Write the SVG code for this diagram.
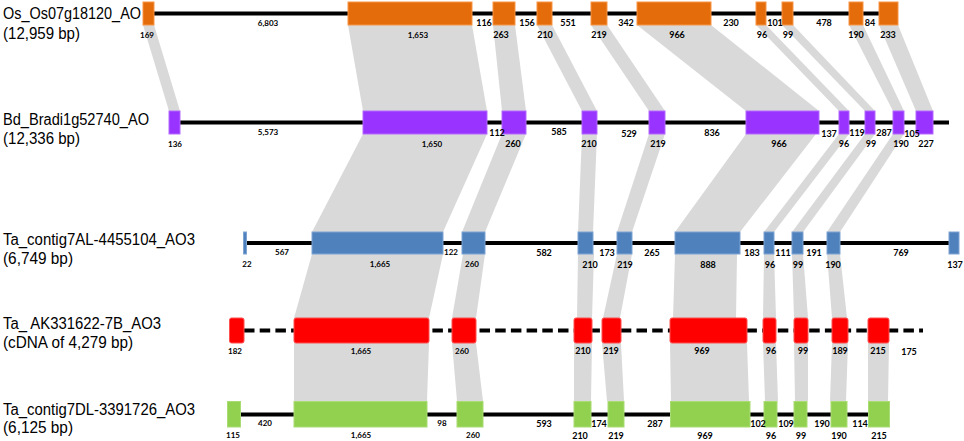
<svg xmlns="http://www.w3.org/2000/svg" width="964" height="441" viewBox="0 0 964 441">
<style>
.name{font-family:"Liberation Sans",Arial,sans-serif;font-size:16px;fill:#000}
.s{font-family:Lato,"Liberation Sans",Arial,sans-serif;font-size:8px;font-weight:700;fill:#000;text-anchor:middle}
.n{font-family:Lato,"Liberation Sans",Arial,sans-serif;font-size:9px;font-weight:700;fill:#000;text-anchor:middle}
.ln{stroke:#000;stroke-width:4;fill:none}
.dash{stroke:#000;stroke-width:4;fill:none;stroke-dasharray:10.5 5.2}
.band{fill:#d9d9d9}
.or{fill:#e46c0a;stroke:#f79646;stroke-width:1}
.pu{fill:#9933ff;stroke:#b36bff;stroke-width:1}
.bl{fill:#4f81bd;stroke:#7ea4d2;stroke-width:1}
.rd{fill:#ff0000;stroke:#ff5050;stroke-width:1}
.gr{fill:#92d050;stroke:#a9dc72;stroke-width:1}
</style>
<g id="connectors">
<polygon class="band" points="143,25 154,25 180,111 169,111"/>
<polygon class="band" points="348,25 472,25 487,111 363,111"/>
<polygon class="band" points="493,25 515,25 526,111 502,111"/>
<polygon class="band" points="537,25 552,25 597,111 582,111"/>
<polygon class="band" points="591,25 607,25 665,111 649,111"/>
<polygon class="band" points="637,25 711,25 819,111 746,111"/>
<polygon class="band" points="756,25 766,25 849,111 839,111"/>
<polygon class="band" points="782,25 793,25 875,111 865,111"/>
<polygon class="band" points="849,25 863,25 904,111 893,111"/>
<polygon class="band" points="879,25 898,25 933,111 916,111"/>
<polygon class="band" points="363,134 487,134 443,232 312,232"/>
<polygon class="band" points="502,134 526,134 485,232 462,232"/>
<polygon class="band" points="582,134 597,134 593,232 578,232"/>
<polygon class="band" points="649,134 665,134 632,232 617,232"/>
<polygon class="band" points="746,134 816,134 740,232 675,232"/>
<polygon class="band" points="839,134 849,134 774,232 764,232"/>
<polygon class="band" points="865,134 875,134 803,232 792,232"/>
<polygon class="band" points="893,134 904,134 840,232 827,232"/>
<polygon class="band" points="312,254 443,254 429,318 294,318"/>
<polygon class="band" points="463,254 485,254 476,318 452,318"/>
<polygon class="band" points="578,254 594,254 592,318 577,318"/>
<polygon class="band" points="617,254 632,254 620,318 603,318"/>
<polygon class="band" points="675,254 737,254 736,318 673,318"/>
<polygon class="band" points="764,254 774,254 776,318 763,318"/>
<polygon class="band" points="792,254 803,254 808,318 794,318"/>
<polygon class="band" points="827,254 840,254 847,318 832,318"/>
<polygon class="band" points="294,343 429,343 427,401 294,401"/>
<polygon class="band" points="452,343 476,343 483,401 457,401"/>
<polygon class="band" points="574,343 592,343 591,401 574,401"/>
<polygon class="band" points="602,343 621,343 624,401 607,401"/>
<polygon class="band" points="670,343 747,343 749,401 671,401"/>
<polygon class="band" points="763,343 776,343 778,401 765,401"/>
<polygon class="band" points="794,343 808,343 808,401 795,401"/>
<polygon class="band" points="832,343 848,343 846,401 830,401"/>
<polygon class="band" points="868,343 889,343 888,401 868,401"/>
</g>
<g id="os">
<text class="name" x="3" y="18.5" textLength="138" lengthAdjust="spacingAndGlyphs">Os_Os07g18120_AO</text>
<text class="name" x="3" y="38.5" textLength="77" lengthAdjust="spacingAndGlyphs">(12,959 bp)</text>
<line class="ln" x1="154" y1="13.5" x2="879" y2="13.5"/>
<rect class="or" x="143" y="2" width="11" height="23"/>
<rect class="or" x="348" y="2" width="124" height="23"/>
<rect class="or" x="493" y="2" width="22" height="23"/>
<rect class="or" x="537" y="2" width="15" height="23"/>
<rect class="or" x="591" y="2" width="16" height="23"/>
<rect class="or" x="637" y="2" width="74" height="23"/>
<rect class="or" x="756" y="2" width="10" height="23"/>
<rect class="or" x="782" y="2" width="11" height="23"/>
<rect class="or" x="849" y="2" width="14" height="23"/>
<rect class="or" x="879" y="2" width="19" height="23"/>
<text class="s" x="147" y="37.5">169</text>
<text class="s" x="268" y="25.5">6,803</text>
<text class="s" x="418" y="37.5">1,653</text>
<text class="n" x="484" y="26">116</text>
<text class="n" x="527" y="26">156</text>
<text class="n" x="568" y="26">551</text>
<text class="n" x="626" y="26">342</text>
<text class="n" x="731" y="26">230</text>
<text class="n" x="775" y="26">101</text>
<text class="n" x="824" y="26">478</text>
<text class="n" x="870" y="26">84</text>
<text class="n" x="501" y="38">263</text>
<text class="n" x="545" y="38">210</text>
<text class="n" x="599" y="38">219</text>
<text class="n" x="677" y="38">966</text>
<text class="n" x="762" y="38">96</text>
<text class="n" x="788" y="38">99</text>
<text class="n" x="856" y="38">190</text>
<text class="n" x="888" y="38">233</text>
</g>
<g id="bd">
<text class="name" x="3" y="125" textLength="146" lengthAdjust="spacingAndGlyphs">Bd_Bradi1g52740_AO</text>
<text class="name" x="3" y="143.5" textLength="77" lengthAdjust="spacingAndGlyphs">(12,336 bp)</text>
<line class="ln" x1="180" y1="122.5" x2="949" y2="122.5"/>
<rect class="pu" x="169" y="111" width="11" height="23"/>
<rect class="pu" x="363" y="111" width="124" height="23"/>
<rect class="pu" x="502" y="111" width="24" height="23"/>
<rect class="pu" x="582" y="111" width="15" height="23"/>
<rect class="pu" x="649" y="111" width="16" height="23"/>
<rect class="pu" x="746" y="111" width="73" height="23"/>
<rect class="pu" x="839" y="111" width="10" height="23"/>
<rect class="pu" x="865" y="111" width="10" height="23"/>
<rect class="pu" x="893" y="111" width="11" height="23"/>
<rect class="pu" x="916" y="111" width="17" height="23"/>
<text class="s" x="268" y="135">5,573</text>
<text class="s" x="175" y="147">136</text>
<text class="s" x="432" y="147">1,650</text>
<text class="n" x="497" y="135.5">112</text>
<text class="n" x="559" y="135">585</text>
<text class="n" x="629" y="136.5">529</text>
<text class="n" x="712" y="135.5">836</text>
<text class="n" x="829" y="136.5">137</text>
<text class="n" x="857" y="135.5">119</text>
<text class="n" x="884" y="135.5">287</text>
<text class="n" x="912" y="136.5">105</text>
<text class="n" x="513" y="147">260</text>
<text class="n" x="589" y="147">210</text>
<text class="n" x="658" y="147">219</text>
<text class="n" x="779" y="147">966</text>
<text class="n" x="844" y="147">96</text>
<text class="n" x="871" y="147">99</text>
<text class="n" x="901" y="147">190</text>
<text class="n" x="926" y="147">227</text>
</g>
<g id="ta7al">
<text class="name" x="3" y="245" textLength="192" lengthAdjust="spacingAndGlyphs">Ta_contig7AL-4455104_AO3</text>
<text class="name" x="3" y="263.5" textLength="70" lengthAdjust="spacingAndGlyphs">(6,749 bp)</text>
<line class="ln" x1="246" y1="243" x2="949" y2="243"/>
<rect class="bl" x="243.5" y="232" width="3" height="22"/>
<rect class="bl" x="312" y="232" width="131" height="22"/>
<rect class="bl" x="462" y="232" width="23" height="22"/>
<rect class="bl" x="578" y="232" width="15" height="22"/>
<rect class="bl" x="617" y="232" width="15" height="22"/>
<rect class="bl" x="675" y="232" width="65" height="22"/>
<rect class="bl" x="764" y="232" width="10" height="22"/>
<rect class="bl" x="792" y="232" width="11" height="22"/>
<rect class="bl" x="827" y="232" width="13" height="22"/>
<rect class="bl" x="949" y="232" width="10" height="22"/>
<text class="s" x="282" y="255">567</text>
<text class="s" x="451" y="255">122</text>
<text class="s" x="247" y="267">22</text>
<text class="s" x="380" y="267">1,665</text>
<text class="s" x="472" y="267">260</text>
<text class="n" x="544" y="255.5">582</text>
<text class="n" x="607" y="255.5">173</text>
<text class="n" x="652" y="255.5">265</text>
<text class="n" x="752" y="255.5">183</text>
<text class="n" x="783" y="255.5">111</text>
<text class="n" x="814" y="255.5">191</text>
<text class="n" x="901" y="255.5">769</text>
<text class="n" x="590" y="267.5">210</text>
<text class="n" x="625" y="267.5">219</text>
<text class="n" x="708" y="267.5">888</text>
<text class="n" x="770" y="267.5">96</text>
<text class="n" x="798" y="267.5">99</text>
<text class="n" x="833" y="267.5">190</text>
<text class="n" x="955" y="267.5">137</text>
</g>
<g id="ak">
<text class="name" x="3" y="329" textLength="158" lengthAdjust="spacingAndGlyphs">Ta_ AK331622-7B_AO3</text>
<text class="name" x="3" y="347.5" textLength="130" lengthAdjust="spacingAndGlyphs">(cDNA of 4,279 bp)</text>
<line class="dash" x1="244" y1="330.5" x2="923" y2="330.5"/>
<rect class="rd" x="229.5" y="318" width="14.5" height="25" rx="2"/>
<rect class="rd" x="294" y="318" width="135" height="25" rx="2"/>
<rect class="rd" x="452" y="318" width="24" height="25" rx="2"/>
<rect class="rd" x="574" y="318" width="18" height="25" rx="2"/>
<rect class="rd" x="602" y="318" width="19" height="25" rx="2"/>
<rect class="rd" x="670" y="318" width="77" height="25" rx="2"/>
<rect class="rd" x="763" y="318" width="13" height="25" rx="2"/>
<rect class="rd" x="794" y="318" width="14" height="25" rx="2"/>
<rect class="rd" x="832" y="318" width="16" height="25" rx="2"/>
<rect class="rd" x="868" y="318" width="21" height="25" rx="2"/>
<text class="s" x="235" y="353.7">182</text>
<text class="s" x="361" y="353.7">1,665</text>
<text class="s" x="462" y="353.7">260</text>
<text class="n" x="583" y="354">210</text>
<text class="n" x="611" y="354">219</text>
<text class="n" x="702" y="354">969</text>
<text class="n" x="771" y="354">96</text>
<text class="n" x="803" y="354">99</text>
<text class="n" x="840" y="354">189</text>
<text class="n" x="878" y="354">215</text>
<text class="n" x="909" y="355">175</text>
</g>
<g id="ta7dl">
<text class="name" x="3" y="414.5" textLength="192" lengthAdjust="spacingAndGlyphs">Ta_contig7DL-3391726_AO3</text>
<text class="name" x="3" y="433" textLength="70" lengthAdjust="spacingAndGlyphs">(6,125 bp)</text>
<line class="ln" x1="240" y1="414.5" x2="868" y2="414.5"/>
<rect class="gr" x="227.5" y="401.5" width="13" height="25.5"/>
<rect class="gr" x="294" y="401.5" width="133" height="25.5"/>
<rect class="gr" x="457" y="401.5" width="26" height="25.5"/>
<rect class="gr" x="574" y="401.5" width="17" height="25.5"/>
<rect class="gr" x="608" y="401.5" width="16" height="25.5"/>
<rect class="gr" x="670.5" y="401.5" width="79.5" height="25.5"/>
<rect class="gr" x="764" y="401.5" width="13" height="25.5"/>
<rect class="gr" x="794" y="401.5" width="13" height="25.5"/>
<rect class="gr" x="831" y="401.5" width="16" height="25.5"/>
<rect class="gr" x="868.5" y="401.5" width="21" height="25.5"/>
<text class="s" x="233" y="438.4">115</text>
<text class="s" x="265" y="426.4">420</text>
<text class="s" x="361" y="438.4">1,665</text>
<text class="s" x="442" y="426.4">98</text>
<text class="s" x="473" y="438.4">260</text>
<text class="n" x="544" y="427">593</text>
<text class="n" x="599" y="427">174</text>
<text class="n" x="655" y="427">287</text>
<text class="n" x="758" y="427">102</text>
<text class="n" x="786" y="427">109</text>
<text class="n" x="822" y="427">190</text>
<text class="n" x="860" y="427">114</text>
<text class="n" x="580" y="439">210</text>
<text class="n" x="616" y="439">219</text>
<text class="n" x="705" y="439">969</text>
<text class="n" x="771" y="439">96</text>
<text class="n" x="801" y="439">99</text>
<text class="n" x="839" y="439">190</text>
<text class="n" x="879" y="439">215</text>
</g>
</svg>
